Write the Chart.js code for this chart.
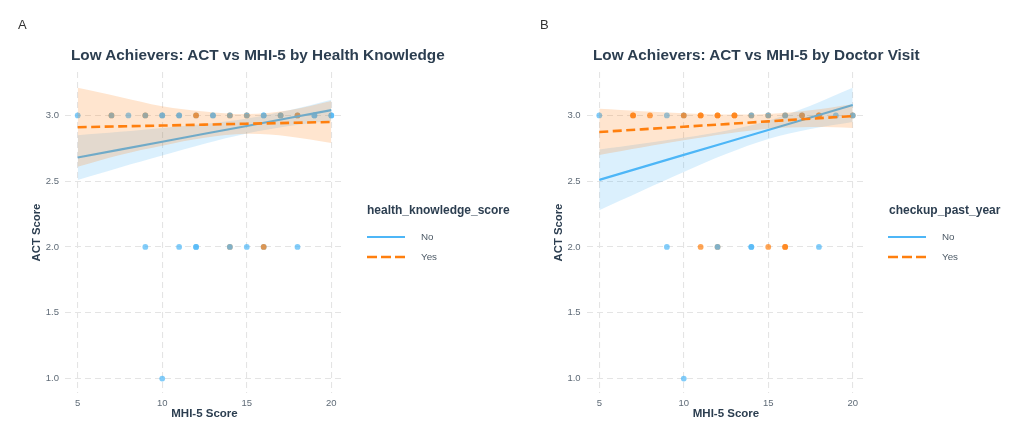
<!DOCTYPE html>
<html>
<head>
<meta charset="utf-8">
<script src="https://cdn.jsdelivr.net/npm/chart.js"></script>
<style>
  body { margin: 0; background: #fff; font-family: "Liberation Sans", Arial, sans-serif; }
  .panel { position: absolute; top: 0; width: 512px; height: 433px; }
  .tag { position: absolute; top: 17px; font-size: 13px; line-height: 16px; color: #333; }
  .title { position: absolute; top: 45px; font-size: 15.3px; line-height: 19px; font-weight: bold; color: #2c3e50; white-space: nowrap; }
  .ltitle { position: absolute; top: 203px; font-size: 12px; line-height: 14px; font-weight: bold; color: #2c3e50; white-space: nowrap; }
  .ltext { position: absolute; font-size: 9.8px; line-height: 12px; color: #4d5a66; }
  .lkey { position: absolute; }
</style>
</head>
<body>
<div class="panel" style="left:0">
  <canvas id="chartA"></canvas>
  <div class="tag" style="left:18px">A</div>
  <div class="title" style="left:71px">Low Achievers: ACT vs MHI-5 by Health Knowledge</div>
  <div class="ltitle" style="left:367px">health_knowledge_score</div>
  <svg class="lkey" style="left:367px;top:234px" width="38" height="6"><line x1="0" y1="3" x2="38" y2="3" stroke="#4db6f7" stroke-width="2.2"/></svg>
  <svg class="lkey" style="left:367px;top:254px" width="38" height="6"><line x1="0" y1="3" x2="38" y2="3" stroke="#ff7f0e" stroke-width="2.6" stroke-dasharray="10 4"/></svg>
  <div class="ltext" style="left:421px;top:231px">No</div>
  <div class="ltext" style="left:421px;top:251px">Yes</div>
</div>
<div class="panel" style="left:512px">
  <canvas id="chartB"></canvas>
  <div class="tag" style="left:28px">B</div>
  <div class="title" style="left:81px">Low Achievers: ACT vs MHI-5 by Doctor Visit</div>
  <div class="ltitle" style="left:377px">checkup_past_year</div>
  <svg class="lkey" style="left:376px;top:234px" width="38" height="6"><line x1="0" y1="3" x2="38" y2="3" stroke="#4db6f7" stroke-width="2.2"/></svg>
  <svg class="lkey" style="left:376px;top:254px" width="38" height="6"><line x1="0" y1="3" x2="38" y2="3" stroke="#ff7f0e" stroke-width="2.6" stroke-dasharray="10 4"/></svg>
  <div class="ltext" style="left:430px;top:231px">No</div>
  <div class="ltext" style="left:430px;top:251px">Yes</div>
</div>
<script>
// tick labels
const xTicks = [5, 10, 15, 20];
const yTicks = [1.0, 1.5, 2.0, 2.5, 3.0];

// x positions where the fitted lines and bands are read
const xFit = [5, 7.5, 10, 12.5, 15, 17.5, 20];

// Panel A: health knowledge
const noFitA   = [2.68, 2.74, 2.80, 2.86, 2.92, 2.98, 3.04];
const noLowA   = [2.51, 2.605, 2.695, 2.785, 2.863, 2.92, 2.96];
const noHighA  = [2.85, 2.875, 2.905, 2.935, 2.977, 3.04, 3.12];
const yesFitA  = [2.91, 2.917, 2.923, 2.93, 2.937, 2.943, 2.95];
const yesLowA  = [2.61, 2.70, 2.77, 2.83, 2.86, 2.84, 2.79];
const yesHighA = [3.21, 3.14, 3.07, 3.03, 3.01, 3.04, 3.11];

const noXA = [5, 7, 8, 9, 10, 10, 11, 11, 12, 13, 13, 14, 15, 16, 16, 17, 18, 19, 19, 20, 20,
              9, 11, 12, 12, 14, 15, 16, 18,
              10];
const noYA = [3, 3, 3, 3, 3, 3, 3, 3, 3, 3, 3, 3, 3, 3, 3, 3, 3, 3, 3, 3, 3,
              2, 2, 2, 2, 2, 2, 2, 2,
              1];
const yesUnderXA = [7, 9, 14, 15, 17, 14];
const yesUnderYA = [3, 3, 3, 3, 3, 2];
const yesOverXA  = [12, 18, 16];
const yesOverYA  = [3, 3, 2];

// Panel B: doctor visit
const noFitB   = [2.51, 2.605, 2.70, 2.795, 2.89, 2.985, 3.08];
const noLowB   = [2.28, 2.426, 2.57, 2.706, 2.82, 2.896, 2.95];
const noHighB  = [2.74, 2.784, 2.83, 2.884, 2.96, 3.074, 3.21];
const yesFitB  = [2.874, 2.894, 2.914, 2.934, 2.955, 2.975, 2.995];
const yesLowB  = [2.70, 2.756, 2.811, 2.861, 2.899, 2.911, 2.905];
const yesHighB = [3.05, 3.032, 3.017, 3.007, 3.011, 3.039, 3.085];

const noXB = [5, 9, 10, 14, 15, 16, 17, 19, 20,
              9, 12, 14, 14, 18,
              10];
const noYB = [3, 3, 3, 3, 3, 3, 3, 3, 3,
              2, 2, 2, 2, 2,
              1];
const yesUnderXB = [14, 15, 16, 20, 12];
const yesUnderYB = [3, 3, 3, 3, 2];
const yesOverXB  = [7, 7, 8, 10, 11, 11, 12, 12, 13, 13, 17, 18, 18, 11, 15, 16, 16];
const yesOverYB  = [3, 3, 3, 3, 3, 3, 3, 3, 3, 3, 3, 3, 3, 2, 2, 2, 2];

const BLUE = '#4db6f7';
const ORANGE = '#ff7f0e';
const BLUE_PT = 'rgba(77,182,247,0.7)';
const ORANGE_PT = 'rgba(255,127,14,0.7)';
const BLUE_BAND = 'rgba(77,182,247,0.2)';
const ORANGE_BAND = 'rgba(255,127,14,0.2)';

function pts(xs, ys) {
  return xs.map((x, i) => ({ x: x, y: ys[i] }));
}

function scatterSet(xs, ys, color, order) {
  return { data: pts(xs, ys), backgroundColor: color, borderWidth: 0, pointRadius: 2.9, order: order };
}

function bandEdge(ys, fillColor, order) {
  return {
    type: 'line', data: pts(xFit, ys), borderColor: 'transparent', pointRadius: 0,
    tension: 0.35, fill: fillColor ? '-1' : false, backgroundColor: fillColor || 'transparent', order: order
  };
}

function fitLine(ys, color, dash, width, order) {
  return {
    type: 'line', data: pts(xFit, ys), borderColor: color, borderWidth: width,
    borderDash: dash, pointRadius: 0, fill: false, order: order
  };
}

function makeChart(id, d, padLeft, padRight) {
  const tickColor = '#5f6b77';
  const titleColor = '#2c3e50';
  return new Chart(document.getElementById(id), {
    type: 'scatter',
    data: {
      datasets: [
        scatterSet(d.yuX, d.yuY, ORANGE_PT, 20),
        scatterSet(d.nX, d.nY, BLUE_PT, 19),
        scatterSet(d.yoX, d.yoY, ORANGE_PT, 18),
        bandEdge(d.nLow, null, 17),
        bandEdge(d.nHigh, BLUE_BAND, 16),
        fitLine(d.nFit, BLUE, [], 2.1, 15),
        bandEdge(d.yLow, null, 14),
        bandEdge(d.yHigh, ORANGE_BAND, 13),
        fitLine(d.yFit, ORANGE, [9, 4.5], 2.6, 12)
      ]
    },
    options: {
      responsive: true,
      maintainAspectRatio: false,
      animation: false,
      events: [],
      layout: { padding: { left: padLeft, right: padRight, top: 72, bottom: 12.2 } },
      plugins: { legend: { display: false }, tooltip: { enabled: false } },
      scales: {
        x: {
          type: 'linear', min: 4.25, max: 20.75,
          afterBuildTicks: s => { s.ticks = xTicks.map(v => ({ value: v })); },
          afterFit: s => { s.height = 27.8; },
          grid: { color: '#e4e4e4', lineWidth: 1.1, drawTicks: false },
          border: { display: false, dash: [6, 4] },
          ticks: { color: tickColor, font: { size: 9.5 }, padding: 4.5 },
          title: { display: true, text: 'MHI-5 Score', color: titleColor, font: { size: 11.5, weight: 'bold' }, padding: 0 }
        },
        y: {
          type: 'linear', min: 0.89, max: 3.33,
          afterBuildTicks: s => { s.ticks = yTicks.map(v => ({ value: v })); },
          afterFit: s => { s.width = 41; },
          grid: { color: '#e4e4e4', lineWidth: 1.1, drawTicks: false },
          border: { display: false, dash: [6, 4] },
          ticks: { color: tickColor, font: { size: 9.5 }, padding: 6, callback: v => v.toFixed(1) },
          title: { display: true, text: 'ACT Score', color: titleColor, font: { size: 11.3, weight: 'bold' }, padding: { top: 6.2, bottom: 0 } }
        }
      }
    }
  });
}

Chart.defaults.font.family = '"Liberation Sans", Arial, sans-serif';

makeChart('chartA', {
  nX: noXA, nY: noYA, yuX: yesUnderXA, yuY: yesUnderYA, yoX: yesOverXA, yoY: yesOverYA,
  nFit: noFitA, nLow: noLowA, nHigh: noHighA, yFit: yesFitA, yLow: yesLowA, yHigh: yesHighA
}, 24, 168);

makeChart('chartB', {
  nX: noXB, nY: noYB, yuX: yesUnderXB, yuY: yesUnderYB, yoX: yesOverXB, yoY: yesOverYB,
  nFit: noFitB, nLow: noLowB, nHigh: noHighB, yFit: yesFitB, yLow: yesLowB, yHigh: yesHighB
}, 33.6, 158.6);
</script>
</body>
</html>
